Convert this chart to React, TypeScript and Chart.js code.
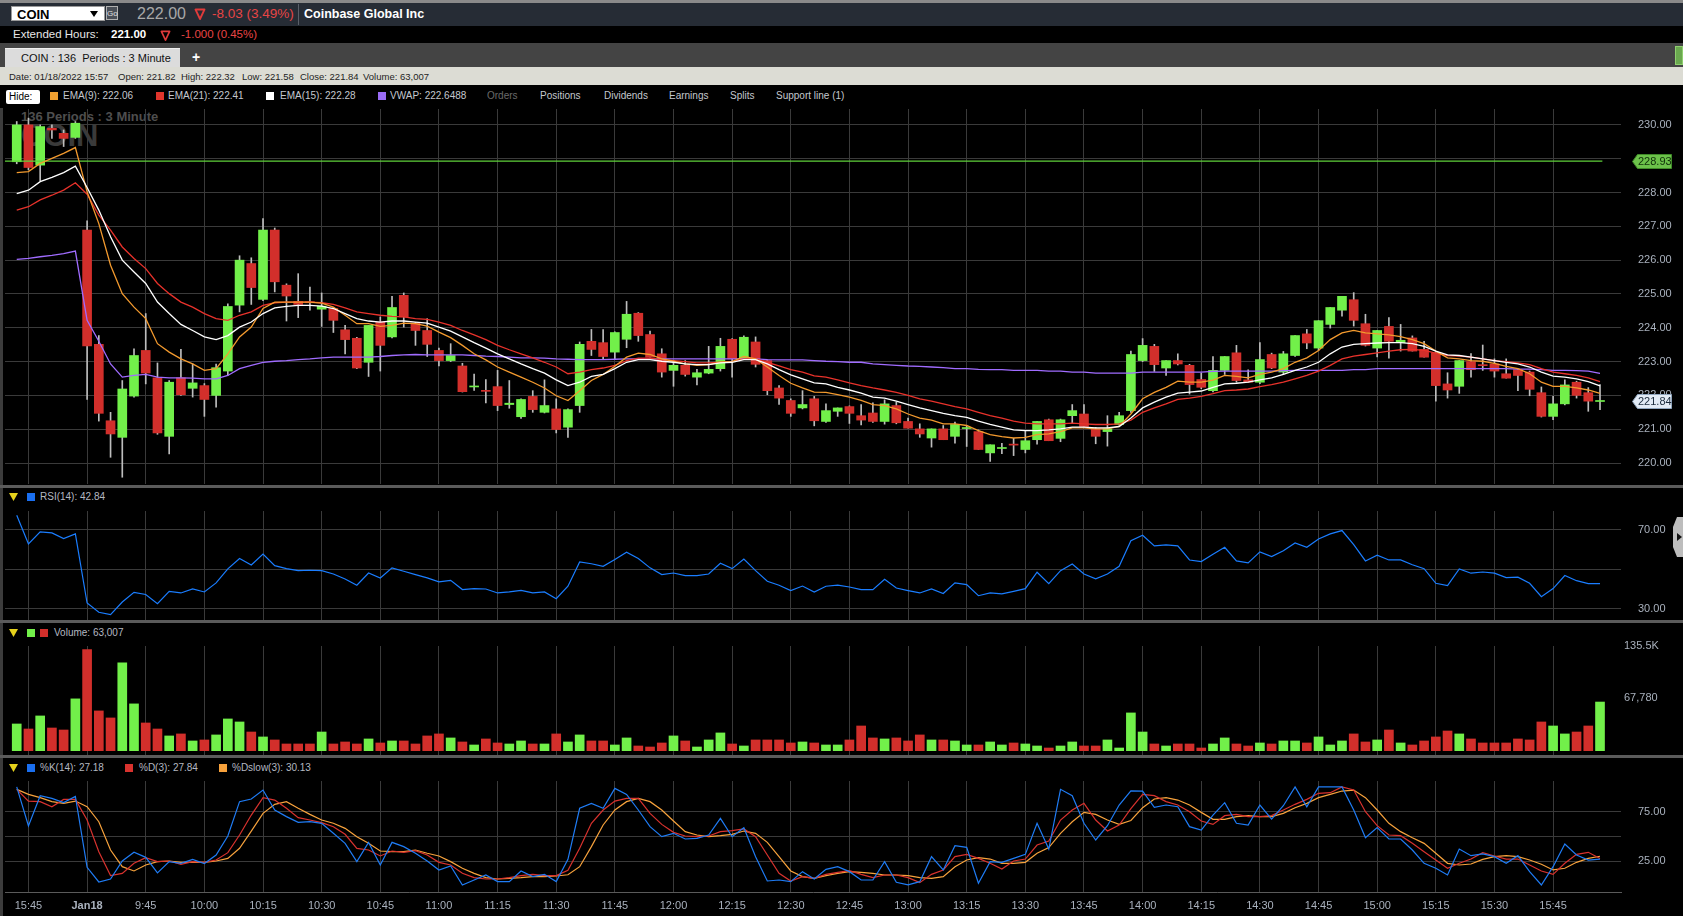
import React, { useEffect, useRef } from 'react';
import { Chart, registerables } from 'chart.js';
Chart.register(...registerables);

const FONT = '"Liberation Sans", Arial, sans-serif';
const GRID = '#3a3a3a';
const AXIS_TXT = '#a9b1bd';
const UP = '#72f04a';
const DOWN = '#d22f2b';
const WICK = '#bdbdbd';

const times = [
  '15:42','15:45','15:48','15:51','15:54','15:57',
  '9:30','9:33','9:36','9:39','9:42','9:45','9:48','9:51','9:54','9:57',
  '10:00','10:03','10:06','10:09','10:12','10:15','10:18','10:21','10:24','10:27','10:30','10:33','10:36','10:39','10:42','10:45','10:48','10:51','10:54','10:57',
  '11:00','11:03','11:06','11:09','11:12','11:15','11:18','11:21','11:24','11:27','11:30','11:33','11:36','11:39','11:42','11:45','11:48','11:51','11:54','11:57',
  '12:00','12:03','12:06','12:09','12:12','12:15','12:18','12:21','12:24','12:27','12:30','12:33','12:36','12:39','12:42','12:45','12:48','12:51','12:54','12:57',
  '13:00','13:03','13:06','13:09','13:12','13:15','13:18','13:21','13:24','13:27','13:30','13:33','13:36','13:39','13:42','13:45','13:48','13:51','13:54','13:57',
  '14:00','14:03','14:06','14:09','14:12','14:15','14:18','14:21','14:24','14:27','14:30','14:33','14:36','14:39','14:42','14:45','14:48','14:51','14:54','14:57',
  '15:00','15:03','15:06','15:09','15:12','15:15','15:18','15:21','15:24','15:27','15:30','15:33','15:36','15:39','15:42','15:45','15:48','15:51','15:54','15:57',
];

const opens = [
  228.91, 230.00, 228.81, 229.90, 229.75, 229.63, 226.89, 223.51, 221.25, 220.76,
  221.98, 223.33, 222.52, 220.79, 222.52, 222.21, 222.29, 222.00, 222.72, 224.67,
  225.90, 224.84, 226.89, 225.26, 224.78, 224.77, 224.55, 224.57, 223.94, 223.69,
  222.98, 224.17, 223.73, 224.96, 224.14, 223.92, 223.33, 223.03, 222.87, 222.25,
  222.14, 222.26, 221.73, 221.37, 221.97, 221.50, 221.60, 221.06, 221.70, 223.60,
  223.56, 223.28, 223.66, 224.43, 223.80, 223.23, 222.74, 222.89, 222.54, 222.66,
  222.79, 223.66, 223.08, 223.58, 223.03, 222.22, 221.85, 221.63, 221.90, 221.23,
  221.53, 221.67, 221.40, 221.48, 221.23, 221.70, 221.23, 221.01, 220.74, 221.01,
  220.79, 221.02, 220.93, 220.30, 220.43, 220.56, 220.40, 220.69, 221.28, 220.73,
  221.40, 221.45, 221.01, 220.93, 221.14, 221.55, 223.03, 223.45, 222.81, 223.03,
  222.89, 222.47, 222.14, 222.74, 223.26, 222.46, 222.39, 223.21, 222.69, 223.18,
  223.82, 223.40, 224.10, 224.52, 224.83, 224.12, 223.40, 224.04, 223.56, 223.70,
  223.36, 223.26, 222.34, 222.27, 223.00, 222.90, 222.93, 222.64, 222.76, 222.69,
  222.08, 221.38, 221.75, 222.39, 222.08, 221.82,
];
const highs = [
  230.10, 230.20, 230.00, 230.00, 229.85, 230.10, 227.16, 223.77, 221.50, 222.44,
  223.38, 224.42, 222.96, 222.44, 223.36, 222.93, 222.35, 222.93, 224.71, 226.13,
  226.07, 227.23, 226.95, 225.30, 225.60, 225.20, 225.03, 224.60, 224.07, 223.72,
  224.07, 224.32, 224.93, 225.03, 224.16, 224.27, 223.40, 223.53, 222.95, 222.63,
  222.47, 222.74, 222.44, 221.90, 222.14, 222.46, 221.90, 221.60, 223.58, 223.95,
  223.95, 223.88, 224.78, 224.45, 223.90, 223.38, 223.03, 223.03, 222.77, 223.45,
  223.69, 223.68, 223.76, 223.73, 223.05, 222.29, 221.90, 222.14, 221.97, 221.75,
  221.63, 221.69, 221.73, 221.78, 221.87, 221.80, 221.33, 221.16, 221.01, 221.11,
  221.21, 221.10, 220.98, 220.54, 220.58, 220.73, 220.96, 221.23, 221.30, 221.30,
  221.73, 221.73, 221.05, 221.40, 221.50, 223.31, 223.68, 223.51, 223.03, 223.23,
  222.92, 222.66, 223.15, 223.15, 223.48, 222.76, 223.56, 223.25, 223.30, 223.77,
  223.95, 224.21, 224.60, 224.93, 225.04, 224.40, 223.92, 224.30, 224.10, 223.76,
  223.60, 223.27, 222.67, 223.03, 223.24, 223.49, 223.08, 223.08, 222.78, 222.72,
  222.25, 221.97, 222.46, 222.42, 222.23, 222.32,
];
const lows = [
  228.85, 228.67, 228.35, 229.60, 229.36, 229.60, 221.88, 221.24, 220.17, 219.58,
  221.95, 222.34, 220.85, 220.27, 222.00, 221.95, 221.38, 221.65, 222.59, 224.47,
  224.69, 224.80, 225.06, 224.20, 224.30, 224.52, 224.04, 223.86, 223.23, 222.79,
  222.56, 222.72, 223.70, 224.02, 223.48, 223.15, 222.87, 223.00, 222.10, 222.15,
  221.78, 221.55, 221.62, 221.32, 221.50, 221.48, 220.89, 220.76, 221.50, 223.18,
  223.08, 223.08, 223.41, 223.60, 223.13, 222.54, 222.27, 222.57, 222.31, 222.64,
  222.72, 222.54, 223.06, 222.84, 222.02, 221.73, 221.38, 221.60, 221.10, 221.20,
  221.38, 221.17, 221.13, 221.20, 221.15, 221.16, 221.03, 220.76, 220.47, 220.69,
  220.59, 220.49, 220.40, 220.05, 220.28, 220.22, 220.30, 220.56, 220.66, 220.63,
  221.18, 221.08, 220.57, 220.50, 221.12, 221.50, 223.00, 222.71, 222.59, 222.90,
  222.04, 222.20, 222.10, 222.62, 222.39, 222.39, 222.35, 222.79, 222.62, 223.15,
  223.38, 223.33, 223.99, 224.34, 224.05, 223.46, 223.14, 223.10, 223.31, 223.31,
  223.13, 221.83, 221.92, 222.06, 222.54, 222.74, 222.54, 222.51, 222.14, 221.99,
  221.36, 221.28, 221.72, 221.92, 221.53, 221.58,
];
const closes = [
  230.00, 228.74, 229.95, 229.85, 229.60, 230.05, 223.46, 221.47, 220.86, 222.19,
  223.18, 222.66, 220.89, 222.39, 222.02, 222.37, 221.88, 222.82, 224.63, 226.00,
  225.19, 226.89, 225.36, 224.94, 224.69, 224.74, 224.64, 224.22, 223.65, 222.81,
  224.07, 223.48, 224.60, 224.32, 223.92, 223.51, 223.03, 223.18, 222.11, 222.27,
  222.12, 221.70, 221.77, 221.88, 221.58, 221.70, 220.99, 221.58, 223.51, 223.36,
  223.15, 223.86, 224.40, 223.77, 223.13, 222.69, 222.89, 222.62, 222.67, 222.77,
  223.45, 223.08, 223.72, 222.92, 222.14, 221.92, 221.47, 221.73, 221.25, 221.55,
  221.63, 221.47, 221.27, 221.23, 221.75, 221.19, 221.03, 220.86, 221.01, 220.69,
  221.14, 221.04, 220.40, 220.54, 220.45, 220.53, 220.66, 221.23, 220.66, 221.28,
  221.55, 221.08, 220.79, 221.01, 221.40, 223.21, 223.48, 222.91, 223.03, 222.93,
  222.32, 222.24, 222.74, 223.15, 222.44, 222.39, 223.06, 222.81, 223.23, 223.77,
  223.55, 224.21, 224.60, 224.93, 224.22, 223.48, 223.92, 223.60, 223.63, 223.31,
  223.13, 222.29, 222.16, 223.03, 222.76, 222.88, 222.72, 222.51, 222.59, 222.18,
  221.38, 221.75, 222.31, 222.00, 221.83, 221.84,
];
const volumes = [
  34600, 28100, 45000, 29400, 26800, 67100, 130800, 51500, 42400, 113900,
  60600, 35900, 28100, 19100, 21700, 12600, 13900, 20400, 41100, 37200,
  24200, 17800, 13900, 8700, 8700, 8700, 24200, 8700, 11300, 8700,
  15200, 10000, 12600, 12600, 8700, 19100, 21700, 16500, 11300, 7400,
  15200, 10000, 8700, 12600, 8700, 8700, 21700, 11300, 20400, 12600,
  12600, 7400, 16500, 6100, 4800, 10000, 19100, 12600, 4800, 13900,
  23000, 8700, 6100, 13900, 13900, 13900, 10000, 11300, 10000, 7400,
  7400, 13900, 32000, 16500, 15200, 16500, 12600, 20400, 13900, 13900,
  12600, 7400, 7400, 11300, 7400, 10000, 8700, 6100, 3500, 6100,
  11300, 6100, 6100, 13900, 3500, 48900, 24200, 8700, 6100, 8700,
  8700, 3500, 8700, 16500, 8700, 6100, 10000, 8700, 12600, 12600,
  10000, 17800, 7400, 12600, 21700, 11300, 13900, 26800, 10000, 7400,
  12600, 17800, 25500, 21700, 15200, 10000, 10000, 10000, 15200, 13900,
  37200, 32000, 21700, 24200, 32000, 63007,
];
const ema9 = [
  228.59, 228.62, 228.86, 229.01, 229.16, 229.33, 228.02, 227.08, 225.85, 225.01,
  224.61, 224.27, 223.53, 223.28, 223.08, 222.93, 222.74, 222.79, 223.23, 223.73,
  224.02, 224.57, 224.76, 224.76, 224.76, 224.76, 224.73, 224.61, 224.37, 224.12,
  224.12, 224.04, 224.07, 224.14, 224.12, 224.05, 223.87, 223.71, 223.48, 223.23,
  223.05, 222.84, 222.69, 222.54, 222.39, 222.22, 221.99, 221.85, 222.14, 222.44,
  222.62, 222.86, 223.13, 223.25, 223.21, 223.08, 223.01, 222.93, 222.89, 222.91,
  222.98, 223.00, 223.15, 223.08, 222.84, 222.59, 222.36, 222.22, 222.10, 222.09,
  222.02, 221.95, 221.85, 221.73, 221.70, 221.60, 221.45, 221.33, 221.27, 221.16,
  221.16, 221.11, 220.96, 220.84, 220.78, 220.74, 220.76, 220.84, 220.86, 220.93,
  221.04, 221.04, 221.01, 221.01, 221.08, 221.45, 221.90, 222.09, 222.24, 222.42,
  222.39, 222.39, 222.45, 222.59, 222.56, 222.52, 222.62, 222.69, 222.79, 222.98,
  223.11, 223.33, 223.65, 223.85, 223.92, 223.85, 223.82, 223.79, 223.74, 223.65,
  223.53, 223.31, 223.11, 223.08, 223.03, 223.01, 222.95, 222.86, 222.79, 222.64,
  222.39, 222.27, 222.27, 222.22, 222.16, 222.06,
];
const ema15 = [
  227.97, 228.07, 228.32, 228.45, 228.59, 228.78, 228.15, 227.48, 226.69, 226.00,
  225.65, 225.31, 224.76, 224.42, 224.10, 223.92, 223.73, 223.65, 223.77, 224.02,
  224.17, 224.42, 224.59, 224.63, 224.66, 224.66, 224.64, 224.57, 224.42, 224.27,
  224.20, 224.17, 224.20, 224.20, 224.17, 224.14, 224.02, 223.90, 223.73, 223.56,
  223.40, 223.23, 223.08, 222.93, 222.79, 222.66, 222.46, 222.29, 222.39, 222.56,
  222.62, 222.79, 222.98, 223.06, 223.06, 223.01, 222.98, 222.93, 222.91, 222.91,
  222.96, 222.98, 223.06, 223.06, 222.93, 222.76, 222.61, 222.49, 222.37, 222.34,
  222.24, 222.16, 222.07, 221.95, 221.92, 221.83, 221.73, 221.63, 221.55, 221.47,
  221.40, 221.35, 221.24, 221.14, 221.06, 220.98, 220.96, 220.96, 220.98, 221.01,
  221.06, 221.06, 221.04, 221.04, 221.08, 221.33, 221.63, 221.80, 221.95, 222.07,
  222.10, 222.13, 222.24, 222.34, 222.36, 222.39, 222.46, 222.52, 222.62, 222.74,
  222.84, 222.98, 223.23, 223.43, 223.51, 223.53, 223.55, 223.56, 223.56, 223.53,
  223.45, 223.31, 223.20, 223.18, 223.13, 223.08, 223.03, 222.98, 222.93, 222.84,
  222.69, 222.57, 222.54, 222.49, 222.41, 222.28,
];
const ema21 = [
  227.48, 227.58, 227.78, 227.92, 228.07, 228.29, 227.95, 227.33, 226.89, 226.39,
  226.05, 225.75, 225.31, 225.01, 224.76, 224.61, 224.42, 224.27, 224.22, 224.37,
  224.47, 224.66, 224.74, 224.76, 224.76, 224.76, 224.74, 224.69, 224.59, 224.47,
  224.42, 224.37, 224.34, 224.32, 224.27, 224.25, 224.17, 224.07, 223.92, 223.79,
  223.65, 223.48, 223.35, 223.23, 223.11, 222.98, 222.84, 222.64, 222.69, 222.76,
  222.81, 222.89, 223.03, 223.10, 223.10, 223.06, 223.03, 223.00, 222.96, 222.96,
  222.98, 223.00, 223.08, 223.08, 222.98, 222.87, 222.76, 222.69, 222.58, 222.54,
  222.46, 222.37, 222.29, 222.22, 222.16, 222.09, 222.00, 221.90, 221.83, 221.75,
  221.67, 221.60, 221.50, 221.40, 221.33, 221.24, 221.18, 221.16, 221.16, 221.16,
  221.18, 221.16, 221.14, 221.14, 221.16, 221.27, 221.50, 221.63, 221.75, 221.88,
  221.92, 221.97, 222.05, 222.14, 222.16, 222.19, 222.26, 222.32, 222.39, 222.49,
  222.59, 222.72, 222.89, 223.08, 223.16, 223.21, 223.26, 223.31, 223.35, 223.36,
  223.33, 223.25, 223.18, 223.16, 223.13, 223.08, 223.03, 223.00, 222.96, 222.91,
  222.79, 222.69, 222.64, 222.59, 222.52, 222.41,
];
const vwap = [
  226.02, 226.05, 226.10, 226.14, 226.19, 226.27, 224.22, 223.60, 222.93, 222.54,
  222.59, 222.62, 222.54, 222.52, 222.52, 222.51, 222.49, 222.49, 222.59, 222.79,
  222.89, 222.98, 223.01, 223.03, 223.06, 223.08, 223.11, 223.13, 223.13, 223.13,
  223.13, 223.15, 223.18, 223.20, 223.21, 223.20, 223.20, 223.20, 223.20, 223.18,
  223.16, 223.15, 223.13, 223.11, 223.11, 223.10, 223.08, 223.07, 223.06, 223.06,
  223.06, 223.07, 223.08, 223.08, 223.08, 223.08, 223.08, 223.08, 223.08, 223.08,
  223.08, 223.08, 223.08, 223.08, 223.06, 223.05, 223.05, 223.05, 223.03, 223.01,
  223.00, 222.98, 222.98, 222.93, 222.91, 222.89, 222.87, 222.86, 222.84, 222.82,
  222.79, 222.79, 222.77, 222.76, 222.76, 222.74, 222.74, 222.74, 222.72, 222.72,
  222.69, 222.69, 222.66, 222.66, 222.66, 222.66, 222.69, 222.69, 222.69, 222.69,
  222.69, 222.69, 222.71, 222.72, 222.72, 222.72, 222.72, 222.72, 222.73, 222.74,
  222.74, 222.74, 222.74, 222.74, 222.76, 222.76, 222.79, 222.79, 222.79, 222.79,
  222.79, 222.79, 222.79, 222.79, 222.79, 222.79, 222.79, 222.79, 222.78, 222.78,
  222.76, 222.74, 222.74, 222.73, 222.72, 222.6488,
];
const rsi14 = [
  77.4, 62.9, 69.0, 68.5, 65.6, 68.0, 33.0, 28.3, 27.1, 33.5,
  38.4, 37.3, 32.7, 38.9, 38.1, 40.1, 38.6, 43.2, 50.3, 55.5,
  52.3, 57.8, 51.9, 50.4, 49.4, 49.6, 49.4, 47.7, 45.2, 42.0,
  48.2, 45.7, 50.8, 49.1, 47.4, 45.7, 43.7, 44.5, 39.8, 40.3,
  40.1, 38.1, 38.6, 39.4, 38.1, 38.6, 35.2, 41.5, 53.8, 52.9,
  51.6, 55.0, 58.7, 55.5, 50.8, 47.4, 48.2, 46.9, 46.9, 47.7,
  53.1, 50.4, 55.3, 49.4, 44.0, 42.0, 39.3, 41.6, 38.6, 41.5,
  42.1, 41.1, 39.8, 39.8, 45.0, 40.6, 39.3, 38.1, 40.1, 37.8,
  43.2, 42.3, 36.7, 38.1, 37.6, 38.9, 40.3, 48.6, 42.8, 49.4,
  52.8, 47.7, 45.2, 47.7, 51.6, 64.5, 67.3, 61.9, 62.4, 61.9,
  54.8, 54.0, 57.7, 61.2, 54.3, 53.3, 58.9, 56.5, 59.5, 63.4,
  61.2, 65.4, 68.0, 69.7, 62.6, 54.3, 57.2, 54.8, 54.8, 52.4,
  50.4, 43.0, 41.8, 50.3, 48.1, 48.7, 48.1, 45.9, 46.1, 43.0,
  36.2, 40.3, 46.9, 44.3, 42.8, 42.84,
];
const stochK = [
  100, 60.6, 91.1, 88.4, 84.1, 90.4, 19.0, 4.2, 7.2, 25.3,
  34.1, 29.0, 13.3, 24.7, 23.0, 27.0, 22.7, 31.4, 50.5, 85.1,
  87.8, 96.8, 76.7, 70.0, 64.3, 64.9, 63.3, 53.2, 43.1, 24.7,
  44.1, 21.3, 44.1, 39.8, 33.1, 25.3, 16.3, 20.3, 1.2, 6.2,
  11.2, 4.6, 4.6, 15.3, 9.6, 11.9, 4.6, 27.0, 78.4, 83.4,
  78.4, 98.5, 92.4, 76.7, 59.9, 49.8, 53.2, 47.5, 48.2, 51.5,
  68.3, 49.8, 58.9, 29.7, 5.2, 6.2, 4.5, 14.6, 7.2, 16.9,
  19.6, 14.6, 6.2, 6.2, 24.7, 3.9, 1.2, 4.5, 29.7, 16.3,
  40.8, 39.1, 2.9, 24.7, 24.0, 28.0, 32.0, 63.3, 37.4, 97.5,
  91.1, 63.3, 46.5, 60.9, 81.7, 96.0, 95.8, 79.4, 81.7, 80.0,
  59.9, 56.5, 71.6, 84.1, 63.3, 61.6, 81.7, 67.6, 81.0, 100,
  80.0, 100, 100, 100, 76.7, 48.8, 58.9, 47.5, 47.5, 36.4,
  23.0, 18.0, 11.2, 37.4, 30.7, 32.4, 29.7, 23.0, 30.7, 14.6,
  1.2, 19.6, 42.4, 31.4, 26.3, 27.18,
];
const stochD = [
  97.5, 85.7, 85.1, 80.0, 87.4, 87.4, 66.6, 34.7, 10.6, 12.9,
  23.0, 28.7, 24.7, 25.3, 22.0, 24.7, 24.0, 26.3, 33.7, 51.5,
  71.6, 89.1, 86.7, 78.4, 69.0, 66.6, 63.9, 59.9, 52.2, 38.1,
  36.4, 30.4, 35.4, 34.1, 35.7, 31.4, 24.0, 21.3, 12.9, 8.6,
  7.2, 7.2, 8.6, 10.6, 11.9, 10.6, 10.6, 16.0, 38.1, 63.3,
  76.7, 85.7, 88.4, 88.4, 73.3, 62.2, 54.2, 50.5, 49.8, 50.5,
  54.9, 55.9, 57.6, 49.8, 31.4, 12.9, 5.2, 9.6, 7.9, 11.9,
  13.9, 15.6, 11.9, 8.6, 11.2, 11.2, 8.6, 3.5, 11.9, 16.3,
  29.7, 32.0, 28.0, 23.0, 17.3, 25.3, 27.3, 41.4, 45.5, 66.6,
  76.7, 83.4, 66.6, 55.5, 61.6, 78.0, 92.4, 91.1, 85.1, 81.7,
  75.0, 65.6, 62.2, 71.0, 72.3, 70.0, 70.0, 71.0, 76.7, 82.4,
  87.4, 93.5, 94.1, 100, 96.8, 75.0, 60.9, 51.5, 50.8, 43.1,
  34.7, 26.3, 18.0, 23.0, 27.3, 33.7, 30.4, 27.3, 27.3, 21.3,
  15.3, 11.9, 23.0, 32.0, 34.1, 27.84,
];
const stochDslow = [
  97.5, 92.4, 89.1, 85.1, 83.4, 85.7, 80.0, 64.9, 36.4, 19.6,
  15.3, 21.3, 24.7, 25.3, 24.0, 24.0, 24.0, 25.3, 28.0, 38.1,
  55.5, 73.3, 82.4, 85.1, 78.4, 72.3, 66.6, 63.3, 58.2, 49.8,
  43.1, 35.4, 34.7, 34.7, 36.4, 33.1, 30.4, 24.7, 18.0, 12.9,
  8.6, 7.2, 7.9, 8.6, 9.6, 9.6, 10.2, 11.5, 19.6, 39.8,
  61.6, 76.7, 85.1, 88.4, 85.1, 76.7, 65.6, 54.9, 51.5, 49.8,
  50.8, 52.2, 55.5, 53.2, 44.1, 29.7, 15.3, 9.6, 7.9, 10.6,
  12.9, 14.6, 13.9, 12.9, 11.2, 11.2, 10.6, 8.6, 7.9, 9.6,
  19.6, 26.3, 28.7, 27.3, 23.0, 23.0, 24.0, 33.1, 38.8, 53.2,
  64.9, 74.3, 72.3, 66.6, 62.2, 66.1, 79.0, 87.8, 89.1, 86.7,
  81.7, 74.3, 67.3, 67.3, 70.0, 71.0, 70.0, 70.0, 73.3, 79.0,
  83.4, 89.1, 92.4, 95.8, 96.8, 89.1, 76.7, 63.3, 54.9, 48.8,
  43.1, 33.1, 23.0, 21.3, 22.3, 27.0, 29.7, 30.7, 29.7, 26.3,
  22.0, 16.3, 18.0, 24.0, 28.0, 30.13,
];

const tickIndex = [1, 6, 11, 16, 21, 26, 31, 36, 41, 46, 51, 56, 61, 66, 71, 76, 81, 86, 91, 96, 101, 106, 111, 116, 121, 126, 131];
const tickLabels = ['15:45', 'Jan18', '9:45', '10:00', '10:15', '10:30', '10:45', '11:00', '11:15', '11:30', '11:45', '12:00', '12:15', '12:30', '12:45', '13:00', '13:15', '13:30', '13:45', '14:00', '14:15', '14:30', '14:45', '15:00', '15:15', '15:30', '15:45'];
const priceTicks = [220, 221, 222, 223, 224, 225, 226, 227, 228, 229, 230];
const rsiTicks = [30, 50, 70];
const rsiLabelled = [30, 70];
const stochTicks = [25, 50, 75];
const stochLabelled = [25, 75];
const volumeTicks = [67780, 135560];
const supportLevel = 228.93;

const N = closes.length;
const X_MIN = -1.0;
const X_MAX = 136.79;

const xy = (arr: number[]) => arr.map((v, i) => ({ x: i, y: v }));
const candleColor = (ctx: any) => {
  const i = ctx.dataIndex;
  return closes[i] >= opens[i] ? UP : DOWN;
};

const xAxis = (showLabels: boolean) => ({
  type: 'linear',
  min: X_MIN,
  max: X_MAX,
  bounds: 'data',
  offset: false,
  afterBuildTicks: (s: any) => { s.ticks = tickIndex.map((v) => ({ value: v })); },
  afterFit: (s: any) => { s.paddingLeft = 0; s.paddingRight = 0; s.height = showLabels ? 24 : 0; },
  grid: { color: GRID, lineWidth: 1, drawTicks: false, offset: false },
  border: { display: showLabels, color: '#5a5a5a', width: 1 },
  ticks: {
    display: showLabels,
    autoSkip: false,
    maxRotation: 0,
    minRotation: 0,
    padding: 7,
    color: AXIS_TXT,
    font: (ctx: any) => ({ family: FONT, size: 11, weight: ctx.tick && ctx.tick.value === 6 ? 'bold' : 'normal' }),
    callback: (v: number) => { const k = tickIndex.indexOf(v); return k >= 0 ? tickLabels[k] : ''; },
  },
});

const yAxis = (min: number, max: number, ticks: number[], fmt: (v: number) => string, pad: number, showGrid = true) => ({
  type: 'linear',
  position: 'right',
  min,
  max,
  bounds: 'data',
  beginAtZero: false,
  afterBuildTicks: (s: any) => { s.ticks = ticks.map((v) => ({ value: v })); },
  afterFit: (s: any) => { s.width = 62; s.paddingTop = 0; s.paddingBottom = 0; },
  grid: { display: showGrid, color: GRID, lineWidth: 1, drawTicks: false },
  border: { display: false },
  ticks: { color: AXIS_TXT, padding: pad, autoSkip: false, font: { family: FONT, size: 11 }, callback: fmt },
});

const baseOptions = (padTop = 0) => ({
  responsive: false,
  maintainAspectRatio: false,
  animation: false,
  events: [],
  layout: { padding: { left: 5, right: 0, top: padTop, bottom: 0 } },
  plugins: { legend: { display: false }, tooltip: { enabled: false } },
});

const priceTagPlugin = {
  id: 'priceTags',
  afterDraw(chart: any) {
    const y = chart.scales.y;
    const ctx = chart.ctx;
    const tags = [
      { v: supportLevel, fill: '#6cc24a', stroke: '#3f8a28', text: '#10300a' },
      { v: closes[N - 1], fill: '#e2ebf6', stroke: '#8fa5bd', text: '#1a2a3c' },
    ];
    ctx.save();
    tags.forEach((t) => {
      const py = Math.round(y.getPixelForValue(t.v)) + 0.5;
      const x0 = chart.chartArea.right + 11.5;
      ctx.beginPath();
      ctx.moveTo(x0, py);
      ctx.lineTo(x0 + 5, py - 7);
      ctx.lineTo(x0 + 39, py - 7);
      ctx.lineTo(x0 + 39, py + 7);
      ctx.lineTo(x0 + 5, py + 7);
      ctx.closePath();
      ctx.fillStyle = t.fill;
      ctx.fill();
      ctx.strokeStyle = t.stroke;
      ctx.lineWidth = 1;
      ctx.stroke();
      ctx.fillStyle = t.text;
      ctx.font = `11px ${FONT}`;
      ctx.textAlign = 'left';
      ctx.textBaseline = 'middle';
      ctx.fillText(t.v.toFixed(2), x0 + 5.5, py + 0.5);
    });
    ctx.restore();
  },
};

const lineDs = (label: string, data: any[], color: string, order: number, width = 1.3) => ({
  type: 'line', label, data, borderColor: color, borderWidth: width, pointRadius: 0, tension: 0, order, fill: false,
});

const mainConfig = () => ({
  type: 'bar',
  data: {
    datasets: [
      lineDs('EMA(15)', xy(ema15), '#ffffff', 1),
      lineDs('EMA(9)', xy(ema9), '#f39a2e', 2),
      lineDs('EMA(21)', xy(ema21), '#e8322b', 3),
      lineDs('VWAP', xy(vwap), '#a06cff', 4),
      lineDs('Support line', [{ x: X_MIN, y: supportLevel }, { x: N - 0.8, y: supportLevel }], '#5fd03a', 5),
      { type: 'bar', label: 'Body', data: opens.map((o, i) => ({ x: i, y: [o, closes[i]] })), backgroundColor: candleColor, barThickness: 9, minBarLength: 1, grouped: false, borderWidth: 0, order: 10 },
      { type: 'bar', label: 'Wick', data: lows.map((l, i) => ({ x: i, y: [l, highs[i]] })), backgroundColor: WICK, barThickness: 1, grouped: false, borderWidth: 0, order: 11 },
    ],
  },
  options: {
    ...baseOptions(0),
    scales: {
      x: xAxis(false),
      y: yAxis(219.38, 230.47, priceTicks, (v: number) => (v === 229 ? '' : v.toFixed(2)), 17),
    },
  },
  plugins: [priceTagPlugin],
});

const rsiConfig = () => ({
  type: 'line',
  data: { datasets: [lineDs('RSI(14)', xy(rsi14), '#1a7dff', 1, 1.2)] },
  options: {
    ...baseOptions(0),
    scales: {
      x: xAxis(false),
      y: yAxis(24.4, 79.6, rsiTicks, (v: number) => (rsiLabelled.includes(v) ? v.toFixed(2) : ''), 17),
    },
  },
});

const volumeConfig = () => ({
  type: 'bar',
  data: {
    datasets: [
      { type: 'bar', label: 'Volume', data: xy(volumes), backgroundColor: candleColor, barThickness: 9, grouped: false, borderWidth: 0 },
    ],
  },
  options: {
    ...baseOptions(10),
    scales: {
      x: xAxis(false),
      y: yAxis(-5570, 135560, volumeTicks, (v: number) => (v === 135560 ? '135.5K' : v.toLocaleString('en-US')), 3, false),
    },
  },
});

const stochConfig = () => ({
  type: 'line',
  data: {
    datasets: [
      lineDs('%Dslow(3)', xy(stochDslow), '#f7a23c', 3, 1.2),
      lineDs('%D(3)', xy(stochD), '#d8322e', 2, 1.2),
      lineDs('%K(14)', xy(stochK), '#1f7cf5', 1, 1.2),
    ],
  },
  options: {
    ...baseOptions(0),
    scales: {
      x: xAxis(true),
      y: yAxis(-5.9, 105.9, stochTicks, (v: number) => (stochLabelled.includes(v) ? v.toFixed(2) : ''), 17),
    },
  },
});

const abs = (left: number, top: number, extra: any = {}) => ({ position: 'absolute', left, top, whiteSpace: 'pre', lineHeight: 1, ...extra });

const Txt = ({ x, y, size = 10, color = '#c4c8ce', weight = 'normal', children }: any) => (
  <div style={abs(x, y - size / 2, { fontSize: size, color, fontWeight: weight, fontFamily: FONT })}>{children}</div>
);

const Sq = ({ x, y, color }: any) => (
  <div style={abs(x, y - 4, { width: 8, height: 8, background: color })} />
);

const DownTri = ({ x, y, size = 12 }: any) => (
  <svg style={abs(x, y - size / 2)} width={size} height={size} viewBox="0 0 12 12">
    <path d="M1.5 1.5 L10.5 1.5 L6 11 Z" fill="none" stroke="#e03b3b" strokeWidth="1.8" strokeLinejoin="round" />
  </svg>
);

const PanelArrow = ({ y }: any) => (
  <svg style={abs(9, y - 4)} width={9} height={8} viewBox="0 0 9 8">
    <path d="M0 0 L9 0 L4.5 8 Z" fill="#e6d21c" />
  </svg>
);

export default function App() {
  const mainRef = useRef<HTMLCanvasElement>(null);
  const rsiRef = useRef<HTMLCanvasElement>(null);
  const volRef = useRef<HTMLCanvasElement>(null);
  const stochRef = useRef<HTMLCanvasElement>(null);

  useEffect(() => {
    const charts = [
      new Chart(mainRef.current as any, mainConfig() as any),
      new Chart(rsiRef.current as any, rsiConfig() as any),
      new Chart(volRef.current as any, volumeConfig() as any),
      new Chart(stochRef.current as any, stochConfig() as any),
    ];
    return () => charts.forEach((c) => c.destroy());
  }, []);

  const last = N - 1;
  const canvasStyle = (top: number, height: number) => ({ position: 'absolute', left: 0, top, width: 1683, height });

  return (
    <div style={{ position: 'fixed', left: 0, top: 0, width: 1683, height: 916, background: '#000', overflow: 'hidden', fontFamily: FONT }}>
      {/* row 1 */}
      <div style={abs(0, 0, { width: 1683, height: 3, background: '#8a8a8a' })} />
      <div style={abs(0, 3, { width: 1683, height: 23, background: '#262c35' })} />
      <div style={abs(11, 6, { width: 94, height: 15, background: '#fff', border: '1px solid #9a9a9a', boxSizing: 'border-box' })} />
      <Txt x={17} y={14} size={13} color="#000" weight="bold">COIN</Txt>
      <svg style={abs(90, 11)} width={8} height={6} viewBox="0 0 8 6"><path d="M0 0 L8 0 L4 6 Z" fill="#000" /></svg>
      <div style={abs(106, 6, { width: 12, height: 14, background: '#4a4f57', border: '1px solid #b0b0b0', boxSizing: 'border-box' })} />
      <Txt x={107} y={13.5} size={8} color="#e0e0e0">Go</Txt>
      <Txt x={137} y={14} size={16} color="#a8a8a8">222.00</Txt>
      <DownTri x={194} y={14} />
      <Txt x={212} y={14} size={13.5} color="#e84545">-8.03 (3.49%)</Txt>
      <div style={abs(298, 4, { width: 1, height: 21, background: '#5a5f68' })} />
      <Txt x={304} y={14} size={12.5} color="#ffffff" weight="bold">Coinbase Global Inc</Txt>

      {/* row 2 */}
      <Txt x={13} y={35} size={11.5} color="#e6e6e6">Extended Hours:</Txt>
      <Txt x={111} y={35} size={11.5} color="#ffffff" weight="bold">221.00</Txt>
      <DownTri x={160} y={35} size={11} />
      <Txt x={181} y={35} size={11.5} color="#e84545">-1.000 (0.45%)</Txt>

      {/* row 3 */}
      <div style={abs(0, 43, { width: 1683, height: 24, background: '#444' })} />
      <div style={abs(5, 48, { width: 175, height: 19, background: '#dcdcdc', borderTop: '1px solid #f0f0f0', boxSizing: 'border-box' })} />
      <Txt x={21} y={58} size={11} color="#111">COIN : 136  Periods : 3 Minute</Txt>
      <Txt x={192} y={57} size={14} color="#fff" weight="bold">+</Txt>
      <div style={abs(1675, 46, { width: 8, height: 19, background: '#6aa84f', border: '1px solid #8fcf6f', boxSizing: 'border-box' })} />

      {/* row 4 */}
      <div style={abs(0, 67, { width: 1683, height: 18, background: '#dcdcd4' })} />
      <Txt x={9} y={77} size={9.5} color="#1e1e1e">Date: 01/18/2022 15:57</Txt>
      <Txt x={118} y={77} size={9.5} color="#1e1e1e">{`Open: ${opens[last].toFixed(2)}`}</Txt>
      <Txt x={181} y={77} size={9.5} color="#1e1e1e">{`High: ${highs[last].toFixed(2)}`}</Txt>
      <Txt x={242} y={77} size={9.5} color="#1e1e1e">{`Low: ${lows[last].toFixed(2)}`}</Txt>
      <Txt x={300} y={77} size={9.5} color="#1e1e1e">{`Close: ${closes[last].toFixed(2)}`}</Txt>
      <Txt x={363} y={77} size={9.5} color="#1e1e1e">{`Volume: ${volumes[last].toLocaleString('en-US')}`}</Txt>

      {/* row 5 legend */}
      <div style={abs(6, 90, { width: 34, height: 14, background: '#fff', borderRadius: 2 })} />
      <Txt x={9} y={97} size={10} color="#000">Hide:</Txt>
      <Sq x={50} y={96} color="#f0a030" />
      <Txt x={63} y={96} size={10} color="#c4c8ce">{`EMA(9): ${ema9[last].toFixed(2)}`}</Txt>
      <Sq x={156} y={96} color="#e0352c" />
      <Txt x={168} y={96} size={10} color="#c4c8ce">{`EMA(21): ${ema21[last].toFixed(2)}`}</Txt>
      <Sq x={266} y={96} color="#ffffff" />
      <Txt x={280} y={96} size={10} color="#c4c8ce">{`EMA(15): ${ema15[last].toFixed(2)}`}</Txt>
      <Sq x={378} y={96} color="#9a6cf5" />
      <Txt x={390} y={96} size={10} color="#c4c8ce">{`VWAP: ${vwap[last].toFixed(4)}`}</Txt>
      <Txt x={487} y={96} size={10} color="#6a6a6a">Orders</Txt>
      <Txt x={540} y={96} size={10} color="#c4c8ce">Positions</Txt>
      <Txt x={604} y={96} size={10} color="#c4c8ce">Dividends</Txt>
      <Txt x={669} y={96} size={10} color="#c4c8ce">Earnings</Txt>
      <Txt x={730} y={96} size={10} color="#c4c8ce">Splits</Txt>
      <Txt x={776} y={96} size={10} color="#c4c8ce">Support line (1)</Txt>

      {/* watermark */}
      <Txt x={21} y={116} size={13} color="#4e4e4e" weight="bold">136 Periods : 3 Minute</Txt>
      <Txt x={21} y={135} size={31} color="#3a3a3a" weight="bold">COIN</Txt>

      {/* left border */}
      <div style={abs(0, 108, { width: 3, height: 808, background: '#3c3c3c' })} />

      <canvas ref={mainRef} width={1683} height={375} style={canvasStyle(109, 375) as any} />

      <div style={abs(0, 485, { width: 1683, height: 3, background: '#5b5b5b' })} />
      <PanelArrow y={497} />
      <Sq x={27} y={497} color="#1a6ff0" />
      <Txt x={40} y={497} size={10} color="#b4b8c0">{`RSI(14): ${rsi14[last].toFixed(2)}`}</Txt>
      <canvas ref={rsiRef} width={1683} height={109} style={canvasStyle(511, 109) as any} />
      <div style={abs(1673, 517, { width: 10, height: 40, background: '#bdbdbd', clipPath: 'polygon(40% 0, 100% 0, 100% 100%, 40% 100%, 0 75%, 0 25%)' })} />
      <svg style={abs(1677, 533)} width={5} height={8} viewBox="0 0 5 8"><path d="M0 0 L5 4 L0 8 Z" fill="#111" /></svg>

      <div style={abs(0, 620, { width: 1683, height: 3, background: '#5b5b5b' })} />
      <PanelArrow y={633} />
      <Sq x={27} y={633} color={UP} />
      <Sq x={40} y={633} color={DOWN} />
      <Txt x={54} y={633} size={10} color="#b4b8c0">{`Volume: ${volumes[last].toLocaleString('en-US')}`}</Txt>
      <canvas ref={volRef} width={1683} height={119} style={canvasStyle(636, 119) as any} />

      <div style={abs(0, 755, { width: 1683, height: 3, background: '#5b5b5b' })} />
      <PanelArrow y={768} />
      <Sq x={27} y={768} color="#1a6ff0" />
      <Txt x={40} y={768} size={10} color="#b4b8c0">{`%K(14): ${stochK[last].toFixed(2)}`}</Txt>
      <Sq x={125} y={768} color="#d8322e" />
      <Txt x={139} y={768} size={10} color="#b4b8c0">{`%D(3): ${stochD[last].toFixed(2)}`}</Txt>
      <Sq x={219} y={768} color="#f7a23c" />
      <Txt x={232} y={768} size={10} color="#b4b8c0">{`%Dslow(3): ${stochDslow[last].toFixed(2)}`}</Txt>
      <canvas ref={stochRef} width={1683} height={135} style={canvasStyle(781, 135) as any} />
    </div>
  );
}
